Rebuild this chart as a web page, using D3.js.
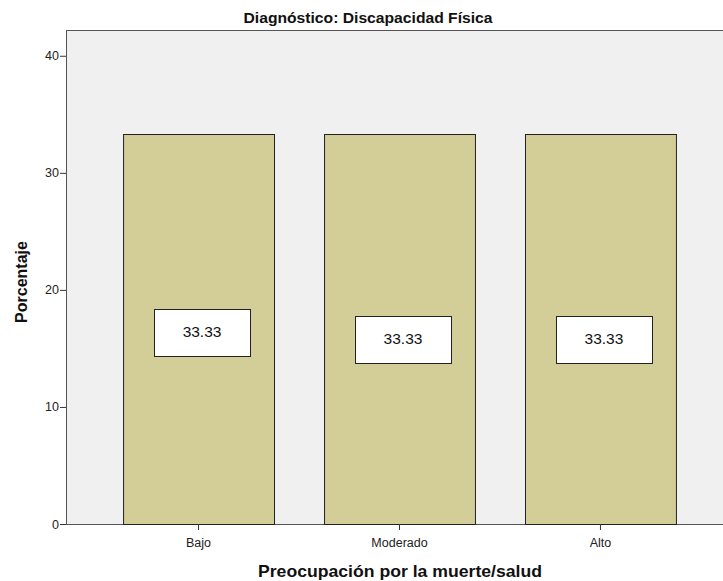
<!DOCTYPE html>
<html><head><meta charset="utf-8">
<script src="https://cdn.jsdelivr.net/npm/d3@7"></script>
<style>
body{margin:0;background:#fff;}
svg{display:block;}
</style></head>
<body><div id="chart"></div>
<script>
const categories = ["Bajo", "Moderado", "Alto"];
const values = [33.33, 33.33, 33.33];
const labelTexts = ["33.33", "33.33", "33.33"];
const labelCenters = [16.4, 15.8, 15.8];
const yTicks = [0, 10, 20, 30, 40];

const W = 723, H = 581;
const svg = d3.select("#chart").append("svg").attr("width", W).attr("height", H);

const x0 = 66, plotTop = 30, plotBottom = 524, plotRight = 733;
const y = d3.scaleLinear().domain([0, 42.2]).range([plotBottom, plotTop]);
const x = d3.scaleBand().domain(categories).range([x0, plotRight]).paddingInner(0.249).paddingOuter(0.284);

svg.append("rect").attr("x", x0 + 0.5).attr("y", plotTop + 0.5).attr("width", plotRight - x0).attr("height", plotBottom - plotTop)
  .attr("fill", "#f0f0f0").attr("stroke", "#555").attr("stroke-width", 1);

svg.selectAll("rect.bar").data(values).enter().append("rect").attr("class", "bar")
  .attr("x", (d, i) => x(categories[i]) + 0.5)
  .attr("y", d => Math.round(y(d)) + 0.5)
  .attr("width", x.bandwidth())
  .attr("height", d => plotBottom - Math.round(y(d)))
  .attr("fill", "#d3ce97").attr("stroke", "#222").attr("stroke-width", 1);

// value labels
const bw = 96, bh = 47, off = 3.5;
const lg = svg.selectAll("g.lbl").data(labelTexts).enter().append("g").attr("class", "lbl");
lg.append("rect")
  .attr("x", (d, i) => Math.round(x(categories[i]) + x.bandwidth() / 2 + off - bw / 2) + 0.5)
  .attr("y", (d, i) => Math.round(y(labelCenters[i]) - bh / 2) + 0.5)
  .attr("width", bw).attr("height", bh)
  .attr("fill", "#fff").attr("stroke", "#222").attr("stroke-width", 1);
lg.append("text")
  .attr("x", (d, i) => x(categories[i]) + x.bandwidth() / 2 + off)
  .attr("y", (d, i) => y(labelCenters[i]) + 5)
  .attr("text-anchor", "middle")
  .attr("font-family", "Arial, 'Liberation Sans', sans-serif").attr("font-size", 15.5).attr("fill", "#111")
  .text(d => d);

// y axis
const yAxis = d3.axisLeft(y).tickValues(yTicks).tickSize(6).tickFormat(d3.format("d"));
const yg = svg.append("g").attr("transform", `translate(${x0},0)`).call(yAxis);
yg.select(".domain").remove();
yg.selectAll(".tick line").attr("stroke", "#333");
yg.selectAll(".tick text").attr("font-family", "Arial,'Liberation Sans',sans-serif")
  .attr("font-size", 12.5).attr("fill", "#222").attr("x", -7);

// x axis
const xAxis = d3.axisBottom(x).tickSize(6).tickSizeOuter(0);
const xg = svg.append("g").attr("transform", `translate(0,${plotBottom})`).call(xAxis);
xg.select(".domain").remove();
xg.selectAll(".tick line").attr("stroke", "#333");
xg.selectAll(".tick text").attr("font-family", "Arial,'Liberation Sans',sans-serif")
  .attr("font-size", 12.5).attr("fill", "#222").attr("dy", "1.1em");

// titles
svg.append("text").attr("x", 368).attr("y", 23).attr("text-anchor", "middle")
  .attr("font-family", "Arial,'Liberation Sans',sans-serif").attr("font-weight", "bold")
  .attr("font-size", 15).attr("fill", "#111")
  .attr("textLength", 249).attr("lengthAdjust", "spacingAndGlyphs")
  .text("Diagnóstico: Discapacidad Física");
svg.append("text").attr("x", 400).attr("y", 577).attr("text-anchor", "middle")
  .attr("font-family", "Arial,'Liberation Sans',sans-serif").attr("font-weight", "bold")
  .attr("font-size", 17).attr("fill", "#111")
  .attr("textLength", 284).attr("lengthAdjust", "spacingAndGlyphs")
  .text("Preocupación por la muerte/salud");
svg.append("text").attr("transform", "translate(27,282) rotate(-90)").attr("text-anchor", "middle")
  .attr("font-family", "Arial,'Liberation Sans',sans-serif").attr("font-weight", "bold")
  .attr("font-size", 16).attr("fill", "#111").text("Porcentaje");
</script></body></html>
